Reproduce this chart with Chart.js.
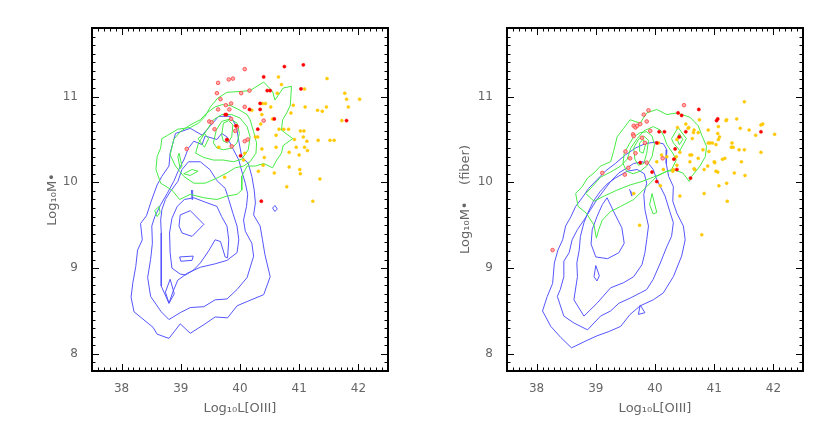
<!DOCTYPE html>
<html>
<head>
<meta charset="utf-8">
<script src="https://cdn.jsdelivr.net/npm/chart.js@4.4.1/dist/chart.umd.min.js"></script>
<style>
html,body{margin:0;padding:0;background:#fff;width:830px;height:430px;overflow:hidden}
canvas{position:absolute;top:0}
</style>
</head>
<body>
<canvas id="c1" width="415" height="430" style="left:0"></canvas>
<canvas id="c2" width="415" height="430" style="left:415px"></canvas>
<script>
// ---------- axes ----------
const xTickValues = [38, 39, 40, 41, 42];
const yTickValues = [8, 9, 10, 11];
const xRange = [37.5, 42.5];
const yRange = [7.8, 11.8];
const xTitle = 'Log₁₀L[OIII]';
const yTitleLeft = 'Log₁₀M•';
const yTitleRight = 'Log₁₀M•    (fiber)';

// ---------- left panel: blue contours ----------
const leftBlue1 = [[38.80,8.18],[38.60,8.23],[38.53,8.31],[38.21,8.49],[38.16,8.66],[38.19,8.83],[38.24,9.02],[38.27,9.21],[38.35,9.33],[38.32,9.52],[38.42,9.61],[38.50,9.78],[38.60,9.97],[38.68,10.07],[38.80,10.19],[38.82,10.34],[38.91,10.57],[39.16,10.63],[39.36,10.55],[39.50,10.66],[39.64,10.77],[39.84,10.77],[39.94,10.65],[39.98,10.48],[40.03,10.30],[40.14,10.22],[40.20,10.07],[40.24,9.91],[40.26,9.76],[40.23,9.62],[40.34,9.49],[40.38,9.33],[40.42,9.16],[40.51,8.90],[40.40,8.69],[40.12,8.61],[39.95,8.56],[39.79,8.42],[39.58,8.43],[39.39,8.34],[39.16,8.24],[38.99,8.35],[38.80,8.18]];
const leftBlue2 = [[38.80,8.40],[38.99,8.48],[39.16,8.54],[39.39,8.55],[39.58,8.63],[39.78,8.64],[39.95,8.75],[40.12,8.89],[40.23,9.14],[40.20,9.29],[40.09,9.43],[40.06,9.56],[40.11,9.72],[40.13,9.86],[40.09,9.99],[40.03,10.13],[39.98,10.26],[39.89,10.38],[39.78,10.53],[39.69,10.57],[39.61,10.50],[39.41,10.54],[39.36,10.44],[39.22,10.48],[39.13,10.40],[39.05,10.26],[38.98,10.17],[38.88,10.01],[38.77,9.87],[38.66,9.74],[38.56,9.60],[38.51,9.49],[38.52,9.29],[38.49,9.10],[38.44,8.89],[38.49,8.67],[38.67,8.49],[38.80,8.40]];
const leftBlue3 = [[38.80,8.59],[38.87,8.73],[38.95,8.86],[39.11,8.94],[39.33,9.01],[39.58,9.05],[39.78,9.09],[39.95,9.18],[39.98,9.33],[39.95,9.49],[39.88,9.64],[39.81,9.80],[39.75,9.93],[39.61,10.02],[39.49,10.15],[39.33,10.24],[39.13,10.24],[39.02,10.15],[38.95,10.01],[38.82,9.89],[38.74,9.80],[38.68,9.68],[38.66,9.56],[38.67,9.41],[38.67,9.10],[38.67,8.79],[38.80,8.59]];
const leftBlue4 = [[38.99,8.93],[39.08,8.92],[39.22,8.98],[39.33,9.06],[39.47,9.20],[39.58,9.33],[39.67,9.31],[39.75,9.13],[39.79,9.12],[39.81,9.33],[39.78,9.49],[39.69,9.60],[39.61,9.72],[39.41,9.77],[39.22,9.82],[39.06,9.80],[38.94,9.72],[38.85,9.58],[38.81,9.41],[38.82,9.18],[38.85,9.00],[38.99,8.93]];
const leftBlue5 = [[38.99,9.62],[39.16,9.67],[39.39,9.51],[39.19,9.37],[39.02,9.41],[38.97,9.49],[38.99,9.62]];
const leftBlue6 = [[38.98,9.13],[39.21,9.14],[39.19,9.09],[39.00,9.08],[38.98,9.13]];
const leftBlue7 = [[38.82,8.87],[38.89,8.70],[38.80,8.59],[38.74,8.72],[38.82,8.87]];
const leftBlue8 = [[39.18,9.91],[39.19,9.80],[39.20,9.91]];
const leftBlue9 = [[40.55,9.70],[40.59,9.73],[40.63,9.69],[40.59,9.66],[40.55,9.70]];

// ---------- left panel: green contours ----------
const leftGreen1 = [[38.98,9.80],[38.85,9.91],[38.66,9.99],[38.58,10.15],[38.60,10.30],[38.66,10.40],[38.68,10.51],[38.78,10.55],[38.95,10.62],[39.16,10.64],[39.30,10.69],[39.41,10.77],[39.50,10.88],[39.62,10.98],[39.78,11.05],[40.00,11.06],[40.17,11.07],[40.40,11.17],[40.55,11.06],[40.59,10.96],[40.73,11.10],[40.87,11.12],[40.85,10.90],[40.79,10.81],[40.72,10.73],[40.70,10.61],[40.89,10.51],[40.73,10.43],[40.70,10.34],[40.62,10.26],[40.55,10.17],[40.40,10.22],[40.26,10.19],[40.12,10.19],[40.03,10.07],[40.03,9.91],[39.95,9.86],[39.78,9.84],[39.61,9.80],[39.39,9.82],[39.16,9.86],[38.98,9.80]];
const leftGreen2 = [[38.82,10.32],[38.91,10.19],[39.05,10.07],[39.22,9.99],[39.41,9.99],[39.61,10.05],[39.78,10.11],[39.92,10.17],[40.06,10.19],[40.17,10.24],[40.27,10.34],[40.28,10.46],[40.23,10.59],[40.17,10.73],[40.12,10.79],[40.00,10.84],[39.86,10.89],[39.72,10.91],[39.58,10.88],[39.44,10.81],[39.33,10.73],[39.16,10.67],[38.99,10.59],[38.88,10.50],[38.82,10.32]];
const leftGreen3 = [[39.25,10.34],[39.30,10.46],[39.44,10.61],[39.55,10.73],[39.69,10.79],[39.86,10.79],[40.00,10.75],[40.12,10.65],[40.17,10.53],[40.14,10.38],[40.03,10.27],[39.89,10.24],[39.72,10.26],[39.55,10.26],[39.39,10.29],[39.25,10.34]];
const leftGreen4 = [[39.55,10.46],[39.60,10.61],[39.69,10.71],[39.84,10.74],[39.95,10.69],[39.99,10.57],[39.95,10.46],[39.86,10.40],[39.72,10.38],[39.61,10.40],[39.55,10.46]];
const leftGreen5 = [[39.69,10.55],[39.72,10.69],[39.81,10.72],[39.88,10.67],[39.86,10.53],[39.79,10.46],[39.72,10.48],[39.69,10.55]];
const leftGreen6 = [[39.29,10.51],[39.40,10.57],[39.47,10.51],[39.40,10.41],[39.29,10.51]];
const leftGreen7 = [[39.05,10.10],[39.19,10.15],[39.29,10.13],[39.16,10.08],[39.05,10.10]];
const leftGreen8 = [[38.56,9.67],[38.63,9.72],[38.65,9.65],[38.60,9.60],[38.56,9.67]];
const leftGreen9 = [[38.97,10.34],[39.02,10.19],[38.99,10.16],[38.95,10.30],[38.97,10.34]];

// ---------- left panel: points ----------
const leftRedSolid = [[40.75,11.35],[41.07,11.37],[40.40,11.23],[40.46,11.07],[40.51,11.07],[40.34,10.92],[40.34,10.85],[41.03,11.09],[40.58,10.74],[41.80,10.72],[40.30,10.62],[39.75,10.79],[40.01,10.31],[40.36,9.78],[40.16,10.85],[39.93,10.66],[39.77,10.79],[39.78,10.50]];
const leftRedOpen = [[40.08,11.32],[39.81,11.20],[39.88,11.21],[39.63,11.16],[39.61,11.04],[40.02,11.04],[40.16,11.07],[39.67,10.97],[39.85,10.92],[39.76,10.90],[40.08,10.88],[39.63,10.85],[39.82,10.85],[39.48,10.71],[39.52,10.70],[39.57,10.62],[39.85,10.74],[39.95,10.65],[39.92,10.60],[40.08,10.48],[40.13,10.50],[39.86,10.42],[40.40,10.72],[39.10,10.39],[39.78,10.49]];
const leftYellow = [[40.65,11.23],[41.47,11.21],[40.70,11.14],[41.09,11.09],[40.63,11.04],[41.77,11.04],[40.38,10.92],[40.43,10.92],[40.90,10.90],[41.10,10.88],[41.31,10.84],[41.39,10.83],[41.46,10.88],[41.80,10.97],[42.02,10.97],[41.83,10.88],[40.52,10.88],[40.86,10.81],[40.37,10.79],[40.20,10.84],[40.35,10.68],[40.55,10.74],[40.66,10.62],[40.74,10.62],[40.82,10.62],[41.02,10.60],[41.08,10.60],[40.30,10.53],[40.26,10.53],[40.61,10.55],[40.92,10.50],[41.07,10.53],[41.13,10.48],[41.32,10.49],[41.52,10.49],[41.59,10.49],[40.37,10.39],[40.61,10.41],[40.95,10.41],[41.09,10.41],[41.14,10.37],[40.83,10.35],[41.00,10.32],[40.41,10.29],[40.39,10.20],[40.31,10.13],[40.58,10.11],[40.83,10.18],[41.01,10.15],[41.02,10.10],[39.74,10.06],[41.35,10.04],[40.79,9.95],[41.23,9.78],[41.72,10.72],[39.64,10.41],[40.06,10.26],[40.08,10.34]];

// ---------- right panel: blue contours ----------
const rightBlue1 = [[38.59,8.07],[38.41,8.19],[38.24,8.32],[38.10,8.50],[38.18,8.67],[38.27,8.82],[38.30,9.06],[38.36,9.21],[38.44,9.33],[38.49,9.49],[38.58,9.60],[38.66,9.72],[38.77,9.82],[38.88,9.93],[39.02,10.03],[39.16,10.13],[39.33,10.22],[39.50,10.32],[39.67,10.40],[39.83,10.45],[40.00,10.47],[40.14,10.45],[40.20,10.38],[40.19,10.22],[40.23,10.07],[40.31,9.95],[40.30,9.78],[40.37,9.64],[40.48,9.49],[40.51,9.33],[40.45,9.14],[40.31,8.90],[40.14,8.71],[39.97,8.63],[39.75,8.56],[39.58,8.46],[39.42,8.32],[39.22,8.26],[39.02,8.21],[38.83,8.15],[38.59,8.07]];
const rightBlue2 = [[38.35,8.67],[38.40,8.75],[38.46,8.90],[38.46,9.08],[38.55,9.18],[38.60,9.33],[38.69,9.45],[38.80,9.56],[38.91,9.68],[39.02,9.80],[39.14,9.91],[39.25,10.01],[39.39,10.11],[39.53,10.17],[39.64,10.22],[39.78,10.24],[39.89,10.22],[39.97,10.15],[40.03,10.03],[40.09,9.95],[40.17,9.84],[40.25,9.66],[40.31,9.53],[40.28,9.37],[40.20,9.25],[40.09,9.06],[39.97,8.87],[39.86,8.75],[39.75,8.71],[39.58,8.65],[39.39,8.59],[39.25,8.50],[39.08,8.44],[38.86,8.28],[38.63,8.36],[38.46,8.44],[38.35,8.67]];
const rightBlue3 = [[38.63,8.63],[38.69,8.90],[38.68,9.06],[38.72,9.21],[38.74,9.37],[38.80,9.53],[38.87,9.65],[38.96,9.78],[39.07,9.89],[39.19,9.98],[39.33,10.05],[39.53,10.13],[39.70,10.15],[39.82,10.10],[39.86,9.99],[39.81,9.86],[39.83,9.68],[39.89,9.49],[39.86,9.33],[39.83,9.18],[39.78,9.04],[39.64,8.90],[39.47,8.83],[39.25,8.77],[39.02,8.59],[38.80,8.44],[38.63,8.63]];
const rightBlue4 = [[39.19,9.82],[39.33,9.62],[39.44,9.47],[39.48,9.29],[39.39,9.18],[39.20,9.11],[39.00,9.13],[38.92,9.28],[38.94,9.45],[39.02,9.60],[39.11,9.74],[39.19,9.82]];
const rightBlue5 = [[39.00,9.03],[39.06,8.91],[39.02,8.85],[38.97,8.90],[39.00,9.03]];
const rightBlue6 = [[39.75,8.57],[39.83,8.48],[39.72,8.46],[39.75,8.57]];
const rightBlue7 = [[39.57,9.92],[39.61,9.84],[39.59,9.90]];

// ---------- right panel: green contours ----------
const rightGreen1 = [[39.01,9.35],[38.97,9.50],[38.84,9.64],[38.70,9.72],[38.66,9.87],[38.77,9.95],[38.86,10.05],[38.97,10.11],[39.08,10.19],[39.25,10.24],[39.30,10.36],[39.36,10.53],[39.47,10.63],[39.58,10.73],[39.75,10.69],[39.86,10.81],[40.03,10.85],[40.20,10.79],[40.37,10.81],[40.59,10.76],[40.73,10.66],[40.79,10.55],[40.87,10.42],[40.85,10.30],[40.76,10.19],[40.62,10.07],[40.58,10.01],[40.47,10.11],[40.34,10.14],[40.20,10.13],[40.03,10.07],[39.86,9.95],[39.64,9.80],[39.42,9.72],[39.25,9.66],[39.11,9.56],[39.05,9.45],[39.01,9.35]];
const rightGreen2 = [[38.83,9.87],[38.94,9.95],[39.08,10.06],[39.25,10.12],[39.42,10.19],[39.53,10.27],[39.59,10.40],[39.70,10.51],[39.81,10.60],[39.97,10.65],[40.09,10.61],[40.15,10.54],[40.20,10.44],[40.30,10.34],[40.36,10.26],[40.28,10.15],[40.14,10.11],[39.97,10.06],[39.78,10.01],[39.58,9.97],[39.36,9.91],[39.14,9.84],[38.97,9.78],[38.83,9.87]];
const rightGreen3 = [[39.48,10.34],[39.56,10.44],[39.64,10.53],[39.75,10.58],[39.86,10.59],[39.95,10.54],[39.99,10.44],[39.95,10.30],[39.86,10.19],[39.75,10.13],[39.63,10.10],[39.52,10.13],[39.46,10.22],[39.48,10.34]];
const rightGreen4 = [[39.64,10.40],[39.72,10.50],[39.81,10.54],[39.89,10.49],[39.86,10.34],[39.81,10.22],[39.72,10.20],[39.66,10.27],[39.64,10.40]];
const rightGreen5 = [[39.74,10.46],[39.80,10.50],[39.84,10.44],[39.80,10.34],[39.74,10.36],[39.74,10.46]];
const rightGreen6 = [[40.28,10.51],[40.39,10.64],[40.53,10.51],[40.42,10.37],[40.31,10.46],[40.28,10.51]];
const rightGreen7 = [[40.37,10.51],[40.41,10.57],[40.47,10.50],[40.41,10.44],[40.37,10.51]];
const rightGreen8 = [[39.91,9.74],[39.95,9.87],[40.03,9.65],[39.97,9.63],[39.91,9.74]];

// ---------- right panel: points ----------
const rightRedSolid = [[40.39,10.81],[40.45,10.78],[40.74,10.85],[41.04,10.72],[41.06,10.74],[40.07,10.59],[40.16,10.59],[40.41,10.53],[40.52,10.59],[40.34,10.39],[40.03,10.46],[40.32,10.27],[40.37,10.15],[40.60,10.05],[39.95,10.12],[40.03,10.01],[39.75,10.23],[41.79,10.59]];
const rightRedOpen = [[40.49,10.90],[39.81,10.79],[39.89,10.84],[39.64,10.66],[39.67,10.64],[39.70,10.66],[39.75,10.68],[39.86,10.71],[39.92,10.60],[39.63,10.56],[39.64,10.54],[39.78,10.52],[39.83,10.46],[39.50,10.36],[39.67,10.34],[39.58,10.28],[39.86,10.23],[39.11,10.11],[39.49,10.09],[39.55,10.17],[38.27,9.21],[40.13,10.28]];
const rightYellow = [[40.38,10.64],[40.52,10.68],[40.56,10.63],[40.65,10.58],[40.73,10.58],[40.37,10.50],[40.42,10.35],[40.59,10.32],[40.59,10.24],[40.67,10.15],[40.83,10.15],[40.73,10.28],[40.90,10.46],[40.91,10.36],[40.97,10.46],[41.06,10.57],[41.09,10.53],[41.20,10.72],[41.38,10.74],[41.32,10.41],[41.30,10.46],[41.42,10.38],[41.01,10.23],[41.14,10.27],[41.34,10.11],[41.08,9.96],[40.83,9.87],[40.42,9.84],[41.22,9.78],[41.03,10.13],[40.06,10.46],[40.11,10.32],[40.20,10.30],[40.14,10.15],[40.31,10.15],[39.64,9.87],[40.03,10.24],[41.51,10.94],[41.51,10.38],[41.79,10.67],[41.82,10.68],[42.02,10.56],[41.70,10.55],[41.59,10.61],[41.44,10.63],[41.79,10.35],[41.29,10.41],[41.21,10.73],[41.52,10.08],[41.21,9.99],[40.79,9.39],[39.74,9.50],[41.46,10.24],[41.18,10.28],[41.00,10.24],[41.06,10.12],[40.89,10.19],[40.62,10.32],[40.66,10.16],[40.81,10.38],[40.93,10.46],[41.07,10.65],[41.07,10.50],[41.03,10.44],[40.90,10.61],[40.75,10.73],[40.57,10.64],[40.63,10.51],[40.66,10.61],[40.36,10.30],[40.37,10.20],[40.30,10.13],[40.09,9.96]];

// ---------- styles ----------
const BLUE = 'rgb(85,85,255)';
const GREEN = 'rgb(70,235,70)';
const FONT = "'DejaVu Sans', 'Liberation Sans', sans-serif";
const TEXT = '#666';

const toXY = arr => arr.map(p => ({x: p[0], y: p[1]}));

function lineSet(arr, color) {
  return {type: 'scatter', data: toXY(arr), showLine: true, borderColor: color, borderWidth: 1,
          pointRadius: 0, fill: false, tension: 0, order: 2};
}
function pointSet(arr, bg, border, r, bw) {
  return {type: 'scatter', data: toXY(arr), showLine: false, backgroundColor: bg, borderColor: border,
          pointRadius: r, borderWidth: bw, pointStyle: 'circle', order: 0};
}

const frameTicks = {
  id: 'frameTicks',
  afterDraw(chart) {
    const {ctx, chartArea: a, scales: {x, y}} = chart;
    ctx.save();
    ctx.strokeStyle = '#000';
    ctx.lineWidth = 1;
    ctx.beginPath();
    for (let i = 0; i <= 50; i++) {
      const v = xRange[0] + i * 0.1;
      const px = Math.round(x.getPixelForValue(v)) + 0.5;
      const major = Math.abs(v - Math.round(v)) < 1e-6;
      const L = major ? 7 : 3.5;
      ctx.moveTo(px, a.bottom); ctx.lineTo(px, a.bottom - L);
      ctx.moveTo(px, a.top); ctx.lineTo(px, a.top + L);
    }
    for (let i = 0; i <= 40; i++) {
      const v = yRange[0] + i * 0.1;
      const py = Math.round(y.getPixelForValue(v)) + 0.5;
      const major = Math.abs(v - Math.round(v)) < 1e-6;
      const L = major ? 7 : 3.5;
      ctx.moveTo(a.left, py); ctx.lineTo(a.left + L, py);
      ctx.moveTo(a.right, py); ctx.lineTo(a.right - L, py);
    }
    ctx.stroke();
    ctx.lineWidth = 2;
    ctx.strokeRect(a.left, a.top, a.right - a.left, a.bottom - a.top);
    ctx.restore();
  }
};

function makeChart(id, blues, greens, redSolid, redOpen, yellow, yTitle, yTitlePad) {
  const datasets = [
    pointSet(redSolid, '#ff0000', '#ff0000', 1.6, 0.5),
    pointSet(redOpen, 'rgba(255,165,165,0.9)', '#ff3c3c', 1.8, 0.8),
    pointSet(yellow, '#ffc800', '#ffc800', 1.5, 0.5),
    ...greens.map(g => lineSet(g, GREEN)),
    ...blues.map(b => lineSet(b, BLUE))
  ];
  return new Chart(document.getElementById(id), {
    type: 'scatter',
    data: {datasets},
    options: {
      responsive: false,
      animation: false,
      devicePixelRatio: 1,
      layout: {padding: {top: 28, right: 27, left: 0, bottom: 0}},
      plugins: {legend: {display: false}, tooltip: {enabled: false}},
      scales: {
        x: {
          type: 'linear', min: xRange[0], max: xRange[1],
          afterBuildTicks: s => { s.ticks = xTickValues.map(v => ({value: v})); },
          afterFit: s => { s.height = 59; },
          grid: {display: false, drawTicks: false},
          border: {display: false},
          ticks: {padding: 11, color: TEXT, font: {family: FONT, size: 12}, maxRotation: 0},
          title: {display: true, text: xTitle, color: TEXT, font: {family: FONT, size: 13}, padding: {top: 0, bottom: 14}}
        },
        y: {
          type: 'linear', min: yRange[0], max: yRange[1],
          afterBuildTicks: s => { s.ticks = yTickValues.map(v => ({value: v})); },
          afterFit: s => { s.width = 92; },
          grid: {display: false, drawTicks: false},
          border: {display: false},
          ticks: {padding: 14, color: TEXT, font: {family: FONT, size: 12}},
          title: {display: true, text: yTitle, color: TEXT, font: {family: FONT, size: 13}, padding: {top: yTitlePad, bottom: 0}}
        }
      }
    },
    plugins: [frameTicks]
  });
}

makeChart('c1',
  [leftBlue1, leftBlue2, leftBlue3, leftBlue4, leftBlue5, leftBlue6, leftBlue7, leftBlue8, leftBlue9],
  [leftGreen1, leftGreen2, leftGreen3, leftGreen4, leftGreen5, leftGreen6, leftGreen7, leftGreen8, leftGreen9],
  leftRedSolid, leftRedOpen, leftYellow, yTitleLeft, 45);

makeChart('c2',
  [rightBlue1, rightBlue2, rightBlue3, rightBlue4, rightBlue5, rightBlue6, rightBlue7],
  [rightGreen1, rightGreen2, rightGreen3, rightGreen4, rightGreen5, rightGreen6, rightGreen7, rightGreen8],
  rightRedSolid, rightRedOpen, rightYellow, yTitleRight, 43);
</script>
</body>
</html>
